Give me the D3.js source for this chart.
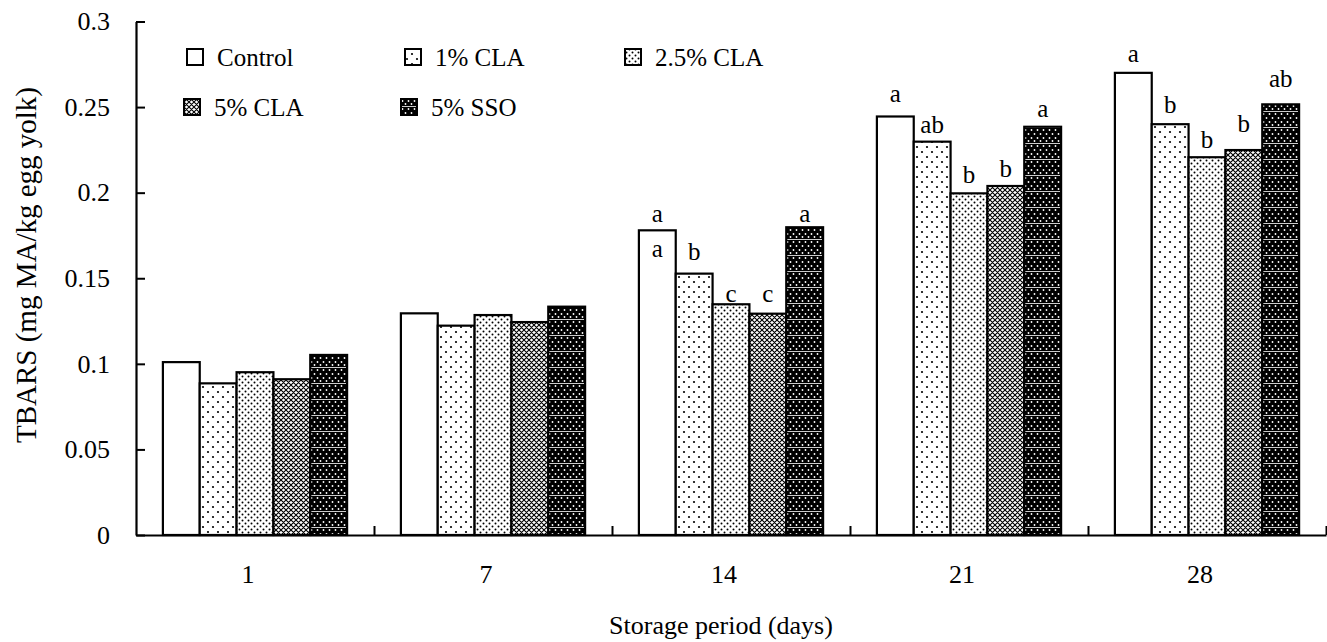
<!DOCTYPE html>
<html>
<head>
<meta charset="utf-8">
<script src="https://cdn.jsdelivr.net/npm/d3@7"></script>
<style>
  body { margin: 0; background: #fff; }
  text { font-family: "Liberation Serif", "Times New Roman", serif; fill: #000; }
</style>
</head>
<body>
<div id="chart"></div>
<script>
// TBARS in egg yolk over storage
var days = ["1", "7", "14", "21", "28"];
var seriesNames = ["Control", "1% CLA", "2.5% CLA", "5% CLA", "5% SSO"];
var control = [0.101, 0.1295, 0.178, 0.2445, 0.270];
var cla1 = [0.0886, 0.1223, 0.1527, 0.2298, 0.240];
var cla25 = [0.0951, 0.1285, 0.1348, 0.1996, 0.2207];
var cla5 = [0.091, 0.1244, 0.1293, 0.2039, 0.2249];
var sso = [0.1052, 0.1334, 0.1798, 0.2385, 0.2516];
var yTicks = [0, 0.05, 0.1, 0.15, 0.2, 0.25, 0.3];
var yTickLabels = ["0", "0.05", "0.1", "0.15", "0.2", "0.25", "0.3"];
// significance letters: [day index, series index, letter, height]
var sigLetters = [
  [2, 0, "a", 0.1829], [2, 0, "a", 0.1624], [2, 1, "b", 0.1607], [2, 2, "c", 0.1361], [2, 3, "c", 0.1361], [2, 4, "a", 0.1829],
  [3, 0, "a", 0.2530], [3, 1, "ab", 0.2349], [3, 2, "b", 0.2057], [3, 3, "b", 0.2092], [3, 4, "a", 0.2442],
  [4, 0, "a", 0.2763], [4, 1, "b", 0.2466], [4, 2, "b", 0.2261], [4, 3, "b", 0.2354], [4, 4, "ab", 0.2617]
];

var values = [control, cla1, cla25, cla5, sso];
var fills = ["#fff", "url(#p1)", "url(#p25)", "url(#p5)", "url(#pso)"];

var w = 1327, h = 642;
var x0 = 136, x1 = 1326, yBase = 535, yTop = 21.5;

var svg = d3.select("#chart").append("svg")
    .attr("width", w)
    .attr("height", h);

// fill patterns
var defs = svg.append("defs");
var p1 = defs.append("pattern").attr("id", "p1").attr("patternUnits", "userSpaceOnUse")
    .attr("width", 10).attr("height", 10);
p1.append("rect").attr("width", 10).attr("height", 10).attr("fill", "#fff");
p1.append("circle").attr("cx", 2).attr("cy", 2).attr("r", 1.1).attr("fill", "#000");
p1.append("circle").attr("cx", 7).attr("cy", 7).attr("r", 1.1).attr("fill", "#000");

var p25 = defs.append("pattern").attr("id", "p25").attr("patternUnits", "userSpaceOnUse")
    .attr("width", 6).attr("height", 6);
p25.append("rect").attr("width", 6).attr("height", 6).attr("fill", "#fff");
p25.append("circle").attr("cx", 1.5).attr("cy", 1.5).attr("r", 1).attr("fill", "#000");
p25.append("circle").attr("cx", 4.5).attr("cy", 4.5).attr("r", 1).attr("fill", "#000");

var p5 = defs.append("pattern").attr("id", "p5").attr("patternUnits", "userSpaceOnUse")
    .attr("width", 5).attr("height", 5);
p5.append("rect").attr("width", 5).attr("height", 5).attr("fill", "#fff");
p5.append("path").attr("d", "M0,0L5,5M5,0L0,5M-1,4L1,6M4,-1L6,1M4,6L6,4M-1,1L1,-1")
    .attr("stroke", "#000").attr("stroke-width", 1.1);

var pso = defs.append("pattern").attr("id", "pso").attr("patternUnits", "userSpaceOnUse")
    .attr("width", 6).attr("height", 16);
pso.append("rect").attr("width", 6).attr("height", 16).attr("fill", "#000");
[[1.5, 2], [4.5, 6], [1.5, 10], [4.5, 13]].forEach(function(c) {
  pso.append("circle").attr("cx", c[0]).attr("cy", c[1]).attr("r", 0.9).attr("fill", "#fff");
});
pso.append("rect").attr("y", 15).attr("width", 6).attr("height", 0.8).attr("fill", "#fff");

// scales
var x = d3.scaleBand().domain(days).range([x0, x1]);
var xs = d3.scaleBand().domain(d3.range(seriesNames.length))
    .range([0, x.bandwidth()]).paddingOuter(0.73);
var y = d3.scaleLinear().domain([0, 0.3]).range([yBase, yTop]);
var xEdge = d3.scaleLinear().domain([0, days.length]).range([x0, x1]);

// bars
var groups = svg.selectAll(".day")
    .data(days)
    .enter()
    .append("g")
    .attr("class", "day")
    .attr("transform", function(d) { return "translate(" + x(d) + ",0)"; });

groups.selectAll("rect")
    .data(function(d, i) {
      return values.map(function(v, s) { return { s: s, v: v[i] }; });
    })
    .enter()
    .append("rect")
    .attr("x", function(d) { return xs(d.s); })
    .attr("width", xs.bandwidth())
    .attr("y", function(d) { return y(d.v); })
    .attr("height", function(d) { return yBase - y(d.v); })
    .attr("fill", function(d) { return fills[d.s]; })
    .attr("stroke", "#000")
    .attr("stroke-width", 2.2);

// letters
svg.selectAll(".sig")
    .data(sigLetters)
    .enter()
    .append("text")
    .attr("class", "sig")
    .attr("x", function(d) { return x(days[d[0]]) + xs(d[1]) + xs.bandwidth() / 2; })
    .attr("y", function(d) { return y(d[3]); })
    .attr("text-anchor", "middle")
    .style("font-size", "25px")
    .text(function(d) { return d[2]; });

// y axis, ticks pointing inward
var yAxis = svg.append("g")
    .attr("transform", "translate(" + x0 + ",0)")
    .call(d3.axisLeft(y).tickValues(yTicks)
      .tickFormat(function(d, i) { return yTickLabels[i]; })
      .tickSizeInner(-9).tickSizeOuter(0).tickPadding(26));
yAxis.select(".domain").attr("stroke-width", 2.2);
yAxis.selectAll(".tick line").attr("stroke-width", 2);
yAxis.selectAll("text").style("font-size", "26px").attr("font-family", null);

// x axis, boundary ticks pointing up
var xAxis = svg.append("g")
    .attr("transform", "translate(0," + yBase + ")")
    .call(d3.axisBottom(xEdge).tickValues(d3.range(1, days.length + 1))
      .tickSizeInner(-9).tickSizeOuter(0).tickFormat(""));
xAxis.select(".domain").attr("stroke-width", 2.2);
xAxis.selectAll(".tick line").attr("stroke-width", 2);

var xLab = svg.append("g")
    .attr("transform", "translate(-7," + yBase + ")")
    .call(d3.axisBottom(x).tickSize(0).tickPadding(30));
xLab.select(".domain").remove();
xLab.selectAll("text").style("font-size", "26px").attr("font-family", null);

// axis titles
svg.append("text")
    .attr("x", 721)
    .attr("y", 634)
    .attr("text-anchor", "middle")
    .style("font-size", "26px")
    .text("Storage period (days)");

svg.append("text")
    .attr("transform", "translate(36,265) rotate(-90)")
    .attr("text-anchor", "middle")
    .style("font-size", "29px")
    .text("TBARS (mg MA/kg egg yolk)");

// legend
var legX = [187, 405, 625, 184, 401];
var legY = [57, 57, 57, 107, 107];
var leg = svg.selectAll(".leg")
    .data(seriesNames)
    .enter()
    .append("g")
    .attr("class", "leg")
    .attr("transform", function(d, i) { return "translate(" + legX[i] + "," + legY[i] + ")"; });

leg.append("rect")
    .attr("x", 0)
    .attr("y", -8)
    .attr("width", 16)
    .attr("height", 16)
    .attr("fill", function(d, i) { return fills[i]; })
    .attr("stroke", "#000")
    .attr("stroke-width", 2);

leg.append("text")
    .attr("x", 30)
    .attr("dy", "0.35em")
    .style("font-size", "25px")
    .text(function(d) { return d; });
</script>
</body>
</html>
